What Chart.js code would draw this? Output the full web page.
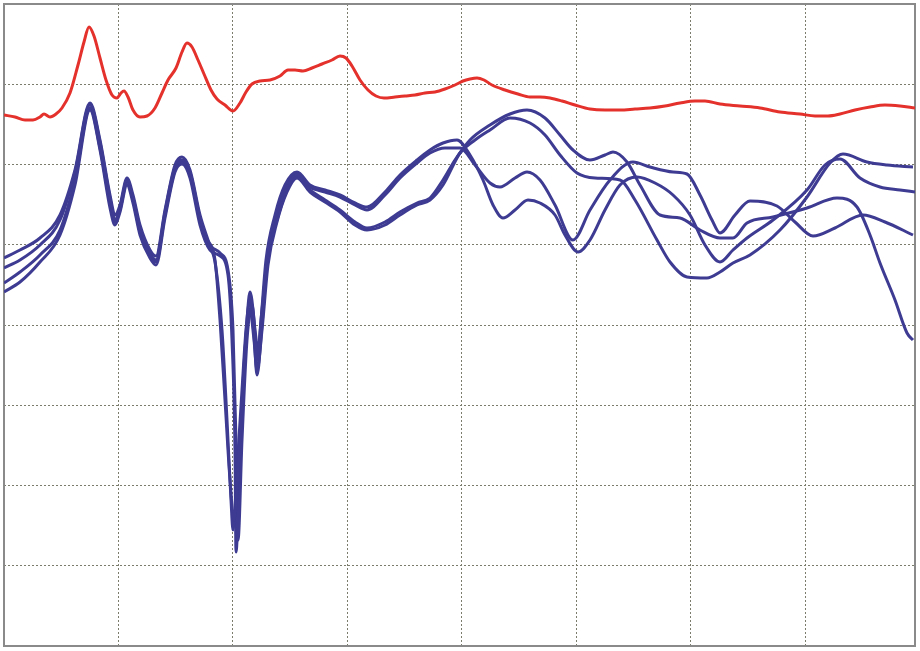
<!DOCTYPE html>
<html>
<head>
<meta charset="utf-8">
<script src="https://cdn.jsdelivr.net/npm/chart.js@4/dist/chart.umd.min.js"></script>
<style>
  body { margin: 0; background: #fff; }
  canvas { display: block; }
</style>
</head>
<body>
<canvas id="myChart" width="920" height="651"></canvas>
<script>
// grid positions (the picture has no tick labels)
const xTicks = [4, 118, 232.5, 347, 461.5, 576, 690.5, 805, 915];
const yTicks = [4, 84, 164, 244.5, 325, 405, 485, 565, 646];

// red curve
const redX = [4, 15, 25, 33, 40, 44, 50, 56, 62, 70, 78, 84, 89, 94, 100, 106, 112, 117, 121, 124, 128, 133, 140, 147, 155, 162, 168, 176, 182, 187, 192, 198, 204, 211, 217, 225, 233, 240, 246, 252, 260, 270, 280, 288, 295, 303, 312, 322, 332, 340, 346, 352, 360, 368, 376, 384, 395, 405, 415, 425, 435, 445, 455, 463, 470, 477, 484, 492, 505, 518, 530, 540, 550, 562, 575, 590, 605, 620, 635, 650, 665, 680, 695, 705, 720, 740, 760, 780, 800, 815, 828, 840, 855, 870, 885, 900, 915];
const redY = [115, 117, 120, 120, 117, 114, 117, 114, 108, 93, 65, 42, 27, 36, 58, 80, 95, 98, 93, 91, 97, 110, 117, 116, 108, 93, 80, 68, 52, 43, 47, 60, 74, 90, 99, 105, 111, 103, 92, 84, 81, 80, 76, 70, 70, 71, 68, 64, 60, 56, 58, 66, 80, 90, 96, 98, 97, 96, 95, 93, 92, 89, 85, 81, 79, 78, 80, 85, 90, 94, 97, 97, 98, 101, 105, 109, 110, 110, 109, 108, 106, 103, 101, 101, 104, 106, 108, 112, 114, 116, 116, 114, 110, 107, 105, 106, 108];

// blue curves
const blueAX = [4, 20, 40, 60, 75, 90, 100, 110, 115, 120, 127, 133, 140, 150, 156, 165, 175, 182, 190, 200, 208, 215, 220, 225, 230, 234, 238, 243, 247, 250, 254, 257, 261, 266, 275, 285, 297, 310, 325, 340, 355, 367, 385, 400, 417, 430, 443, 457, 470, 483, 493, 503, 515, 528, 540, 555, 565, 578, 590, 605, 620, 637, 655, 673, 690, 705, 720, 733, 747, 773, 807, 825, 840, 860, 880, 900, 915];
const blueAY = [258, 250, 238, 215, 170, 103, 140, 195, 215, 205, 178, 195, 225, 250, 256, 210, 165, 157, 170, 215, 240, 260, 320, 400, 480, 520, 470, 390, 320, 292, 320, 360, 320, 260, 215, 185, 172, 185, 190, 195, 203, 207, 192, 175, 160, 150, 143, 140, 155, 180, 205, 218, 210, 200, 203, 215, 235, 252, 240, 210, 185, 177, 183, 195, 215, 245, 262, 250, 238, 220, 190, 165, 159, 178, 187, 190, 192];

const blueBX = [4, 20, 40, 60, 75, 90, 100, 110, 115, 120, 127, 133, 140, 150, 156, 165, 175, 182, 190, 200, 208, 215, 222, 227, 231, 233, 237, 242, 246, 250, 254, 257, 262, 267, 276, 286, 297, 310, 325, 340, 355, 367, 385, 400, 417, 430, 445, 460, 475, 490, 500, 515, 527, 540, 555, 573, 590, 610, 633, 650, 673, 687, 700, 712, 720, 735, 750, 777, 795, 813, 835, 863, 885, 913];
const blueBY = [268, 260, 245, 220, 172, 105, 142, 198, 220, 208, 180, 198, 228, 253, 260, 212, 167, 160, 172, 218, 244, 262, 330, 420, 500, 530, 470, 390, 330, 300, 335, 375, 325, 262, 217, 187, 174, 187, 192, 197, 205, 210, 195, 178, 163, 153, 148, 148, 165, 183, 187, 178, 172, 180, 205, 240, 210, 180, 162, 167, 172, 174, 195, 220, 233, 215, 201, 206, 222, 236, 228, 215, 222, 235];

const blueCX = [4, 20, 40, 60, 75, 90, 100, 110, 115, 120, 127, 133, 140, 150, 156, 165, 175, 182, 190, 200, 210, 220, 228, 233, 236, 238, 242, 247, 252, 255, 258, 262, 268, 277, 287, 297, 310, 325, 340, 355, 367, 385, 400, 417, 430, 443, 455, 470, 490, 510, 527, 545, 560, 573, 590, 605, 613, 627, 640, 660, 680, 700, 720, 733, 747, 773, 807, 837, 857, 870, 880, 895, 907, 913];
const blueCY = [283, 272, 255, 230, 180, 108, 148, 203, 222, 210, 182, 200, 232, 256, 262, 215, 170, 162, 175, 220, 245, 253, 270, 330, 440, 540, 440, 340, 305, 330, 350, 310, 255, 220, 190, 176, 190, 200, 210, 222, 228, 222, 212, 203, 198, 180, 160, 140, 125, 114, 110, 118, 135, 150, 160, 155, 152, 162, 185, 215, 218, 230, 238, 238, 223, 217, 208, 198, 207, 235, 263, 300, 333, 340];

const blueDX = [4, 20, 40, 60, 75, 90, 100, 110, 115, 120, 127, 133, 140, 150, 156, 165, 175, 182, 190, 200, 210, 220, 228, 232, 235, 236, 240, 245, 250, 254, 257, 262, 268, 277, 287, 297, 310, 325, 340, 355, 367, 385, 400, 417, 430, 443, 460, 475, 490, 510, 530, 545, 560, 577, 595, 620, 635, 657, 670, 687, 707, 720, 733, 750, 780, 807, 830, 843, 867, 887, 913];
const blueDY = [292, 282, 262, 235, 185, 110, 150, 208, 225, 212, 185, 203, 235, 258, 265, 218, 172, 164, 178, 225, 250, 256, 275, 340, 450, 552, 450, 350, 310, 340, 370, 330, 265, 222, 192, 178, 192, 202, 212, 225, 230, 225, 215, 205, 200, 185, 153, 140, 130, 118, 123, 135, 155, 173, 178, 180, 200, 240, 262, 277, 278, 272, 263, 255, 230, 197, 163, 154, 162, 165, 167];

function points(xs, ys) {
  return xs.map(function (x, i) { return { x: x, y: ys[i] }; });
}

const blueColor = '#3d3b92';
const redColor = '#e4312b';

function series(xs, ys, color) {
  return {
    data: points(xs, ys),
    borderColor: color,
    borderWidth: 3,
    pointRadius: 0,
    fill: false,
    cubicInterpolationMode: 'monotone'
  };
}

// solid frame round the plot area
const framePlugin = {
  id: 'frame',
  beforeDatasetsDraw: function (chart) {
    const a = chart.chartArea;
    const ctx = chart.ctx;
    ctx.save();
    ctx.strokeStyle = '#8a8a8a';
    ctx.lineWidth = 2;
    ctx.strokeRect(a.left, a.top, a.right - a.left, a.bottom - a.top);
    ctx.restore();
  }
};

const gridOpts = {
  color: '#7c7c6c',
  lineWidth: 1,
  drawTicks: false
};

var ctx = document.getElementById('myChart').getContext('2d');
var myChart = new Chart(ctx, {
  type: 'line',
  data: {
    datasets: [
      series(blueAX, blueAY, blueColor),
      series(blueBX, blueBY, blueColor),
      series(blueCX, blueCY, blueColor),
      series(blueDX, blueDY, blueColor),
      series(redX, redY, redColor)
    ]
  },
  options: {
    responsive: false,
    animation: false,
    layout: { padding: { left: 4, top: 4, right: 5, bottom: 5 } },
    plugins: {
      legend: { display: false },
      tooltip: { enabled: false }
    },
    scales: {
      x: {
        type: 'linear',
        min: 4,
        max: 915,
        grid: gridOpts,
        border: { display: false, dash: [2, 2] },
        ticks: { display: false },
        afterBuildTicks: function (scale) {
          scale.ticks = xTicks.map(function (v) { return { value: v }; });
        }
      },
      y: {
        type: 'linear',
        reverse: true,
        min: 4,
        max: 646,
        grid: gridOpts,
        border: { display: false, dash: [2, 2] },
        ticks: { display: false },
        afterBuildTicks: function (scale) {
          scale.ticks = yTicks.map(function (v) { return { value: v }; });
        }
      }
    }
  },
  plugins: [framePlugin]
});
</script>
</body>
</html>
